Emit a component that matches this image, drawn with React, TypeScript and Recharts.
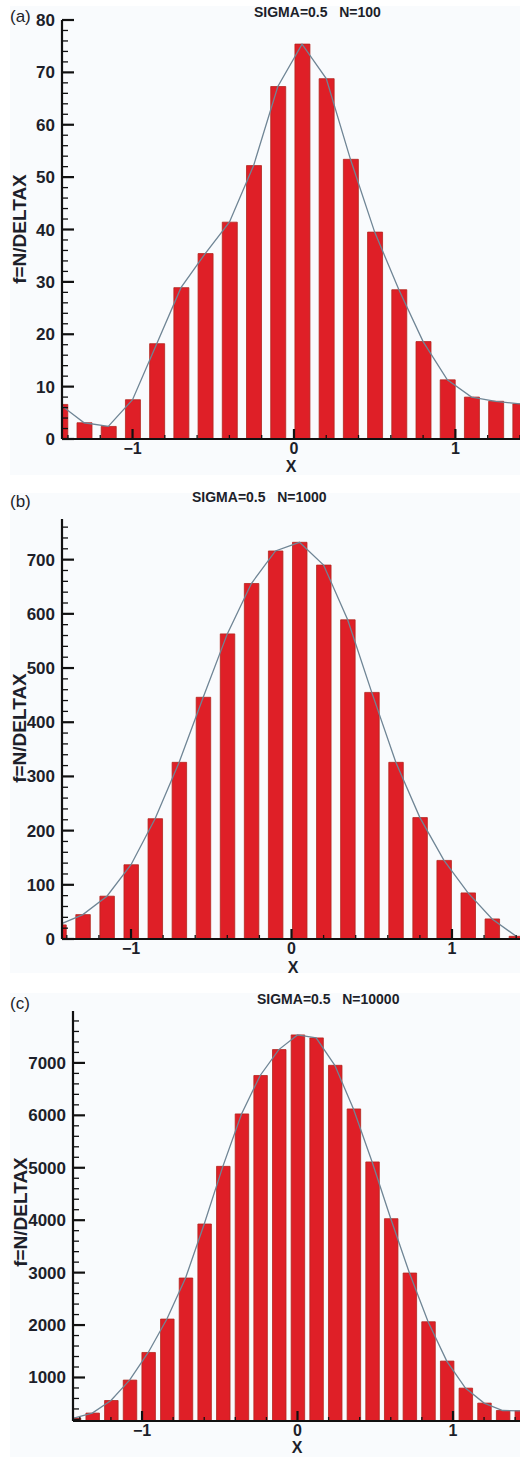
import React from "react";
import { ComposedChart, Bar, Line, XAxis, YAxis } from "recharts";

// bin centres and f = N/DELTAX
const binsA = [-1.45, -1.3, -1.15, -1.0, -0.85, -0.7, -0.55, -0.4, -0.25, -0.1, 0.05, 0.2, 0.35, 0.5, 0.65, 0.8, 0.95, 1.1, 1.25, 1.4];
const valuesA = [6.6, 3.1, 2.4, 7.5, 18.2, 28.9, 35.4, 41.4, 52.2, 67.3, 75.4, 68.8, 53.4, 39.5, 28.5, 18.6, 11.3, 8.0, 7.2, 6.7];

const binsB = [-1.45, -1.3, -1.15, -1.0, -0.85, -0.7, -0.55, -0.4, -0.25, -0.1, 0.05, 0.2, 0.35, 0.5, 0.65, 0.8, 0.95, 1.1, 1.25, 1.4];
const valuesB = [26, 45, 79, 137, 222, 326, 446, 563, 656, 716, 732, 690, 589, 455, 326, 224, 145, 85, 37, 5];

const binsC = [-1.44, -1.32, -1.2, -1.08, -0.96, -0.84, -0.72, -0.6, -0.48, -0.36, -0.24, -0.12, 0, 0.12, 0.24, 0.36, 0.48, 0.6, 0.72, 0.84, 0.96, 1.08, 1.2, 1.32, 1.44];
const valuesC = [225, 321, 561, 950, 1477, 2114, 2897, 3927, 5027, 6027, 6760, 7254, 7534, 7477, 6954, 6122, 5111, 4029, 2992, 2063, 1313, 797, 511, 370, 364];

const xMajor = [-1, 0, 1];
const xMinor = [-1.4, -1.2, -0.8, -0.6, -0.4, -0.2, 0.2, 0.4, 0.6, 0.8, 1.2, 1.4];
const xLabels = ["\u22121", "0", "1"];

const yMajorA = [0, 10, 20, 30, 40, 50, 60, 70, 80];
const yMajorB = [0, 100, 200, 300, 400, 500, 600, 700];
const yMajorC = [1000, 2000, 3000, 4000, 5000, 6000, 7000];

const titles = ["SIGMA=0.5   N=100", "SIGMA=0.5   N=1000", "SIGMA=0.5   N=10000"];
const panelLabels = ["(a)", "(b)", "(c)"];
const yTitle = "f=N/DELTAX";
const xTitle = "X";

const FONT = "'Liberation Sans', Arial, Helvetica, sans-serif";
const INK = "#1d1f2a";

function steps(from: number, to: number, step: number) {
  const out: number[] = [];
  for (let v = from; v <= to + 1e-9; v += step) out.push(Math.round(v * 1000) / 1000);
  return out;
}

const isIn = (list: number[], v: number) => list.some((m) => Math.abs(m - v) < 1e-6);

function yTick(majors: number[]) {
  return (props: any) => {
    const { x, y, payload } = props;
    const major = isIn(majors, payload.value);
    return (
      <g>
        <line x1={x} x2={x + (major ? 12 : 6)} y1={y} y2={y} stroke="#111" strokeWidth={major ? 2.2 : 1.3} />
        {major && (
          <text x={x - 7} y={y + 6} textAnchor="end" fontFamily={FONT} fontWeight="bold" fontSize={17} fill={INK}>
            {payload.value}
          </text>
        )}
      </g>
    );
  };
}

function xTick(props: any) {
  const { x, y, payload } = props;
  const idx = xMajor.findIndex((m) => Math.abs(m - payload.value) < 1e-6);
  const major = idx >= 0;
  return (
    <g>
      <line x1={x} x2={x} y1={y} y2={y - (major ? 10 : 4)} stroke="#111" strokeWidth={major ? 2.2 : 1.3} />
      {major && (
        <text x={x} y={y + 14.5} textAnchor="middle" fontFamily={FONT} fontWeight="bold" fontSize={16} fill={INK}>
          {xLabels[idx]}
        </text>
      )}
    </g>
  );
}

type PanelProps = {
  top: number;
  width: number;
  height: number;
  marginTop: number;
  axisWidth: number;
  axisHeight: number;
  bins: number[];
  values: number[];
  xDomain: [number, number];
  yDomain: [number, number];
  yTicks: number[];
  yMajor: number[];
  barSize: number;
};

function Histogram(p: PanelProps) {
  const data = p.bins.map((x, i) => ({ x, f: p.values[i] }));
  const xTicks = [...xMajor, ...xMinor].sort((a, b) => a - b);
  return (
    <div style={{ position: "absolute", left: 0, top: p.top }}>
      <ComposedChart width={p.width} height={p.height} data={data} margin={{ top: p.marginTop, right: 0, left: 0, bottom: 0 }}>
        <XAxis
          dataKey="x"
          type="number"
          domain={p.xDomain}
          allowDataOverflow
          ticks={xTicks}
          interval={0}
          tickSize={0}
          tickMargin={0}
          tickLine={false}
          tick={xTick}
          height={p.axisHeight}
          axisLine={{ stroke: "#111", strokeWidth: 2.2 }}
        />
        <YAxis
          type="number"
          domain={p.yDomain}
          allowDataOverflow
          ticks={p.yTicks}
          interval={0}
          tickSize={0}
          tickMargin={0}
          tickLine={false}
          tick={yTick(p.yMajor)}
          width={p.axisWidth}
          axisLine={{ stroke: "#111", strokeWidth: 2.2 }}
        />
        <Line type="linear" dataKey="f" stroke="#6f8595" strokeWidth={1.3} dot={false} isAnimationActive={false} />
        <Bar dataKey="f" barSize={p.barSize} fill="#df1f27" stroke="#b3261e" strokeWidth={0.8} isAnimationActive={false} />
      </ComposedChart>
    </div>
  );
}

const txt = (extra: React.CSSProperties): React.CSSProperties => ({
  position: "absolute",
  fontFamily: FONT,
  color: INK,
  whiteSpace: "pre",
  ...extra,
});

function Texts({ i, titleLeft, titleTop, labelTop, yCenter, yLeft, xCenter, xTop }: any) {
  return (
    <>
      <div style={txt({ left: 10, top: labelTop, fontSize: 17, lineHeight: "17px" })}>{panelLabels[i]}</div>
      <div style={txt({ left: titleLeft, top: titleTop, fontSize: 14, lineHeight: "14px", fontWeight: "bold" })}>{titles[i]}</div>
      <div
        style={txt({
          left: yLeft,
          top: yCenter,
          fontSize: 19,
          lineHeight: "19px",
          fontWeight: "bold",
          transform: "translate(-50%, -50%) rotate(-90deg)",
        })}
      >
        {yTitle}
      </div>
      <div style={txt({ left: xCenter, top: xTop, fontSize: 16, lineHeight: "16px", fontWeight: "bold", transform: "translateX(-50%)" })}>
        {xTitle}
      </div>
    </>
  );
}

export default function App() {
  return (
    <div style={{ position: "absolute", left: 0, top: 0, width: 520, height: 1457, overflow: "hidden", background: "#fff" }}>
      <div style={{ position: "absolute", left: 10, top: 6, width: 510, height: 469, background: "#f9fbfd" }} />
      <div style={{ position: "absolute", left: 10, top: 493, width: 510, height: 480, background: "#f9fbfd" }} />
      <div style={{ position: "absolute", left: 10, top: 993, width: 510, height: 464, background: "#f9fbfd" }} />

      <Histogram
        top={0}
        width={524}
        height={470}
        marginTop={20}
        axisWidth={62}
        axisHeight={31}
        bins={binsA}
        values={valuesA}
        xDomain={[-1.437, 1.425]}
        yDomain={[0, 80]}
        yTicks={steps(0, 80, 2)}
        yMajor={yMajorA}
        barSize={15}
      />
      <Histogram
        top={480}
        width={521}
        height={490}
        marginTop={39}
        axisWidth={62}
        axisHeight={31}
        bins={binsB}
        values={valuesB}
        xDomain={[-1.43, 1.43]}
        yDomain={[0, 775]}
        yTicks={steps(0, 760, 20)}
        yMajor={yMajorB}
        barSize={14.5}
      />
      <Histogram
        top={980}
        width={522}
        height={473}
        marginTop={31}
        axisWidth={73}
        axisHeight={32}
        bins={binsC}
        values={valuesC}
        xDomain={[-1.444, 1.444]}
        yDomain={[170, 7990]}
        yTicks={steps(200, 7800, 200)}
        yMajor={yMajorC}
        barSize={13.5}
      />

      <Texts i={0} titleLeft={254} titleTop={5} labelTop={8} yCenter={229} yLeft={19} xCenter={291} xTop={459} />
      <Texts i={1} titleLeft={192} titleTop={490} labelTop={493} yCenter={728} yLeft={19} xCenter={293} xTop={960} />
      <Texts i={2} titleLeft={257} titleTop={992} labelTop={995} yCenter={1212} yLeft={20} xCenter={297} xTop={1440} />
    </div>
  );
}
